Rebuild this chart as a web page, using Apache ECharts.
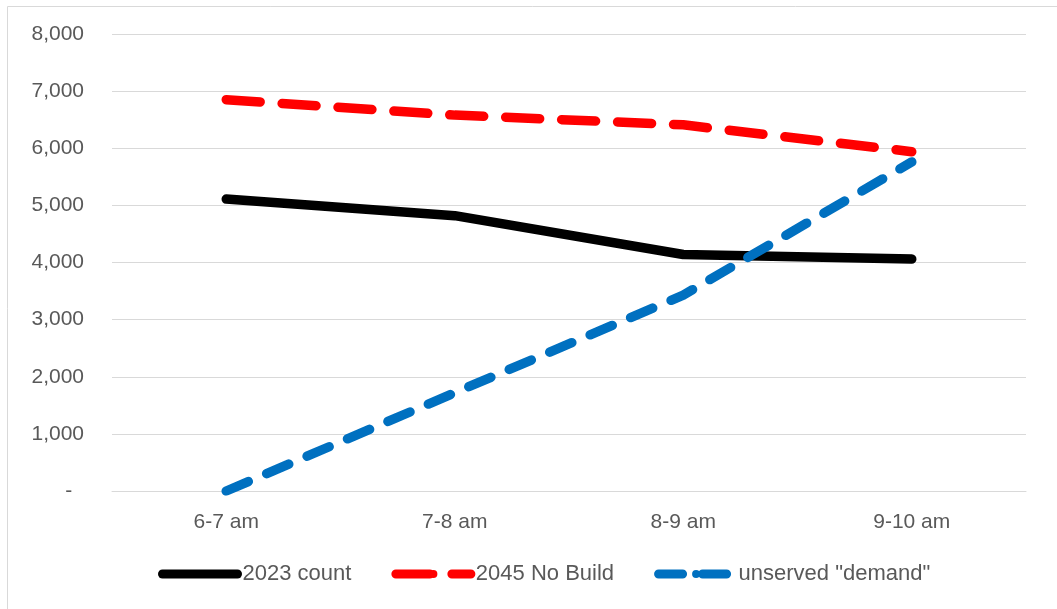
<!DOCTYPE html>
<html>
<head>
<meta charset="utf-8">
<script src="https://cdn.jsdelivr.net/npm/echarts@6/dist/echarts.min.js"></script>
<style>
  html, body { margin: 0; padding: 0; background: #fff; }
  #chart { width: 1057px; height: 609px; }
</style>
</head>
<body>
<div id="chart"></div>
<script>
// 横轴分类
const hours = ['6-7 am', '7-8 am', '8-9 am', '9-10 am'];
// 各系列数值
const count2023 = [5110, 4820, 4140, 4060];
const noBuild2045 = [6850, 6580, 6410, 5940];
const unservedDemand = [0, 1720, 3430, 5760];
// 纵轴刻度
const yMin = 0;
const yMax = 8000;
const yStep = 1000;

const font = 'Liberation Sans';
const textColor = '#595959';

const chart = echarts.init(document.getElementById('chart'));

chart.setOption({
  animation: false,
  textStyle: { fontFamily: font },
  graphic: [
    {
      type: 'rect',
      shape: { x: 7.5, y: 6.5, width: 1200, height: 800 },
      style: { fill: 'none', stroke: '#d9d9d9', lineWidth: 1 },
      silent: true
    }
  ],
  grid: {
    left: 112,
    right: 31,
    top: 34,
    bottom: 118
  },
  legend: {
    left: 158,
    top: 563,
    padding: 0,
    itemWidth: 75,
    itemHeight: 10,
    itemGap: 40,
    textStyle: { fontFamily: font, fontSize: 22, color: textColor },
    lineStyle: { width: 9 },
    data: ['2023 count', '2045 No Build', 'unserved "demand"']
  },
  xAxis: {
    type: 'category',
    data: hours,
    boundaryGap: true,
    axisLine: { lineStyle: { color: '#d9d9d9', width: 1 } },
    axisTick: { show: false },
    axisLabel: { color: textColor, fontSize: 21, margin: 21, fontFamily: font }
  },
  yAxis: {
    type: 'value',
    min: yMin,
    max: yMax,
    interval: yStep,
    axisLine: { show: false },
    axisTick: { show: false },
    splitLine: { lineStyle: { color: '#d9d9d9', width: 1 } },
    axisLabel: {
      color: textColor,
      fontSize: 21,
      margin: 28,
      fontFamily: font,
      formatter: function (v) {
        if (v === 0) return '-  ';
        return v.toLocaleString('en-US');
      }
    }
  },
  series: [
    {
      name: '2023 count',
      type: 'line',
      data: count2023,
      symbol: 'none',
      lineStyle: { color: '#000000', width: 9.5, cap: 'round', join: 'round' },
      itemStyle: { color: '#000000' },
      z: 3
    },
    {
      name: '2045 No Build',
      type: 'line',
      data: noBuild2045,
      symbol: 'none',
      lineStyle: { color: '#ff0000', width: 9.5, type: [34, 22], cap: 'round', join: 'round' },
      itemStyle: { color: '#ff0000' },
      z: 2
    },
    {
      name: 'unserved "demand"',
      type: 'line',
      data: unservedDemand,
      symbol: 'none',
      lineStyle: { color: '#0070c0', width: 9.5, type: [24, 20], cap: 'round', join: 'round' },
      itemStyle: { color: '#0070c0' },
      z: 4
    }
  ]
});
</script>
</body>
</html>
